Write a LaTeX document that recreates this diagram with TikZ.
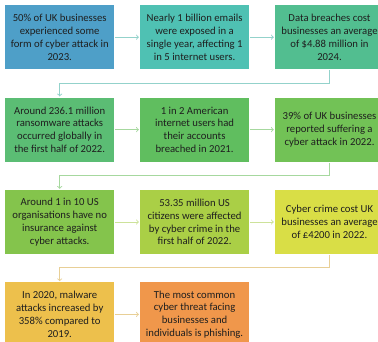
\documentclass[tikz,border=0pt]{standalone}
\usepackage{fontspec}
\setmainfont{Carlito}
\usepackage{xcolor}
\usetikzlibrary{positioning}

\definecolor{boxA}{HTML}{4E9FC8}
\definecolor{boxB}{HTML}{4FC1B3}
\definecolor{boxC}{HTML}{52BE90}
\definecolor{boxD}{HTML}{5BBD74}
\definecolor{boxE}{HTML}{60BE5F}
\definecolor{boxF}{HTML}{72C256}
\definecolor{boxG}{HTML}{84C44C}
\definecolor{boxH}{HTML}{AACF46}
\definecolor{boxI}{HTML}{D9DE46}
\definecolor{boxJ}{HTML}{EDC04C}
\definecolor{boxK}{HTML}{F0974B}
\definecolor{linkA}{HTML}{93D2CB}
\definecolor{linkB}{HTML}{A6D89E}
\definecolor{linkC}{HTML}{CDE29A}
\definecolor{linkD}{HTML}{E8CF96}

\begin{document}
\begin{tikzpicture}[node distance=28pt and 25.5pt,
    fact/.style={rectangle, minimum width=109pt, minimum height=64pt, inner sep=1pt,
        align=center, text=black!88, font=\fontsize{10.7}{12.8}\selectfont},
    link/.style={->, line width=0.9pt, shorten <=1pt, shorten >=1pt}]
    \useasboundingbox (0,0) rectangle (378pt,-341pt);

    % Row 1
    \node[fact, fill=boxA, anchor=north west] (ukattack) at (5pt,-5pt) {50\% of UK businesses\\experienced some\\form of cyber attack in\\2023.};
    \node[fact, fill=boxB, right=of ukattack] (emails) {Nearly 1 billion emails\\were exposed in a\\single year, affecting 1\\in 5 internet users.};
    \node[fact, fill=boxC, right=of emails] (breachcost) {Data breaches cost\\businesses an average\\of \$4.88 million in\\2024.};

    % Row 2
    \node[fact, fill=boxD, below=of ukattack] (ransomware) {Around 236.1 million\\ransomware attacks\\occurred globally in\\the first half of 2022.};
    \node[fact, fill=boxE, right=of ransomware] (accounts) {1 in 2 American\\internet users had\\their accounts\\breached in 2021.};
    \node[fact, fill=boxF, right=of accounts] (uksuffer) {39\% of UK businesses\\reported suffering a\\cyber attack in 2022.};

    % Row 3
    \node[fact, fill=boxG, below=of ransomware] (insurance) {Around 1 in 10 US\\organisations have no\\insurance against\\cyber attacks.};
    \node[fact, fill=boxH, right=of insurance] (citizens) {53.35 million US\\citizens were affected\\by cyber crime in the\\first half of 2022.};
    \node[fact, fill=boxI, right=of citizens] (crimecost) {Cyber crime cost UK\\businesses an average\\of £4200 in 2022.};

    % Row 4
    \node[fact, fill=boxJ, below=of insurance] (malware) {In 2020, malware\\attacks increased by\\358\% compared to\\2019.};
    \node[fact, fill=boxK, right=of malware] (phishing) {The most common\\cyber threat facing\\businesses and\\individuals is phishing.};

    % Connections
    \draw[link, linkA] (ukattack) -- (emails);
    \draw[link, linkA] (emails) -- (breachcost);
    \draw[link, linkA] (breachcost.south) -- ++(0,-14pt) -| (ransomware.north);
    \draw[link, linkB] (ransomware) -- (accounts);
    \draw[link, linkB] (accounts) -- (uksuffer);
    \draw[link, linkB] (uksuffer.south) -- ++(0,-14pt) -| (insurance.north);
    \draw[link, linkC] (insurance) -- (citizens);
    \draw[link, linkC] (citizens) -- (crimecost);
    \draw[link, linkD] (crimecost.south) -- ++(0,-13.5pt) -| (malware.north);
    \draw[link, linkD] (malware) -- (phishing);
\end{tikzpicture}
\end{document}
